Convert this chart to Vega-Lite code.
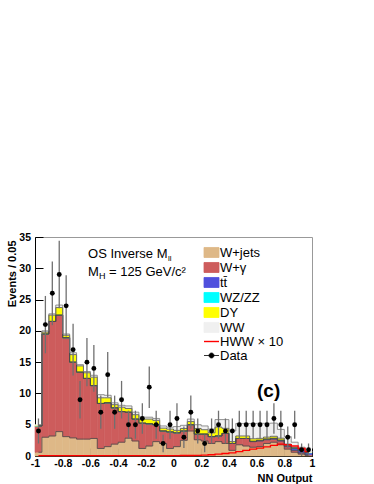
{
  "$schema": "https://vega.github.io/schema/vega-lite/v6.json",
  "width": 277,
  "height": 219,
  "autosize": {"type": "none"},
  "padding": {"left": 35, "top": 237, "right": 62, "bottom": 28},
  "background": "white",
  "config": {
    "font": "Liberation Sans",
    "view": {"stroke": "#999999", "strokeWidth": 1},
    "axis": {
      "grid": false,
      "domainColor": "#000000",
      "tickColor": "#000000",
      "labelFont": "Liberation Sans",
      "labelFontWeight": "bold",
      "labelFontSize": 10.5,
      "labelColor": "#000000",
      "labelOverlap": false,
      "labelFlush": false,
      "titleFont": "Liberation Sans",
      "titleFontWeight": "bold",
      "titleFontSize": 11,
      "titleColor": "#000000"
    },
    "axisX": {
      "title": "NN Output",
      "values": [-1, -0.8, -0.6, -0.4, -0.2, 0, 0.2, 0.4, 0.6, 0.8, 1],
      "tickSize": -8,
      "labelPadding": 10,
      "titleAnchor": "end",
      "titleAlign": "right",
      "titleBaseline": "alphabetic",
      "titleX": 277,
      "titleY": 25
    },
    "axisY": {
      "values": [0, 5, 10, 15, 20, 25, 30, 35],
      "tickSize": -8,
      "labelPadding": 12.5,
      "titleAngle": -90,
      "titleAlign": "right",
      "titleBaseline": "alphabetic",
      "titleX": -20,
      "titleY": 3
    }
  },
  "datasets": {
    "procs": [
      {"p": "wjets", "o": 0, "label": "W+jets"},
      {"p": "wg", "o": 1, "label": "W+γ"},
      {"p": "tt", "o": 2, "label": "tt\u0304"},
      {"p": "wz", "o": 3, "label": "WZ/ZZ"},
      {"p": "dy", "o": 4, "label": "DY"},
      {"p": "ww", "o": 5, "label": "WW"}
    ],
    "bins": [
      {"lo": -1, "hi": -0.95, "c": -0.975, "wjets": 0.6, "wg": 4.2, "tt": 0, "wz": 0, "dy": 0.1, "ww": 0.1, "hww": 0.05, "n": 4, "err": 2},
      {"lo": -0.95, "hi": -0.9, "c": -0.925, "wjets": 3.0, "wg": 16.5, "tt": 0, "wz": 0, "dy": 0.3, "ww": 0.2, "hww": 0.05, "n": 21, "err": 4.58},
      {"lo": -0.9, "hi": -0.85, "c": -0.875, "wjets": 3.2, "wg": 18.3, "tt": 0, "wz": 0.02, "dy": 1.0, "ww": 0.2, "hww": 0.05, "n": 26, "err": 5.1},
      {"lo": -0.85, "hi": -0.8, "c": -0.825, "wjets": 3.9, "wg": 18.6, "tt": 0, "wz": 0.02, "dy": 1.2, "ww": 0.4, "hww": 0.05, "n": 29, "err": 5.39},
      {"lo": -0.8, "hi": -0.75, "c": -0.775, "wjets": 3.1, "wg": 15.8, "tt": 0, "wz": 0, "dy": 0.4, "ww": 0.2, "hww": 0.05, "n": 24, "err": 4.9},
      {"lo": -0.75, "hi": -0.7, "c": -0.725, "wjets": 2.9, "wg": 12.1, "tt": 0, "wz": 0, "dy": 1.2, "ww": 0.3, "hww": 0.05, "n": 17, "err": 4.12},
      {"lo": -0.7, "hi": -0.65, "c": -0.675, "wjets": 2.7, "wg": 10.7, "tt": 0, "wz": 0, "dy": 1.0, "ww": 0.2, "hww": 0.05, "n": 9, "err": 3},
      {"lo": -0.65, "hi": -0.6, "c": -0.625, "wjets": 2.7, "wg": 9.7, "tt": 0, "wz": 0, "dy": 0.9, "ww": 0.2, "hww": 0.05, "n": 15, "err": 3.87},
      {"lo": -0.6, "hi": -0.55, "c": -0.575, "wjets": 2.8, "wg": 8.45, "tt": 0, "wz": 0, "dy": 1.35, "ww": 0.3, "hww": 0.05, "n": 14, "err": 3.74},
      {"lo": -0.55, "hi": -0.5, "c": -0.525, "wjets": 1.2, "wg": 7.2, "tt": 0, "wz": 0, "dy": 0.9, "ww": 0.5, "hww": 0.05, "n": 7, "err": 2.65},
      {"lo": -0.5, "hi": -0.45, "c": -0.475, "wjets": 1.5, "wg": 7.0, "tt": 0, "wz": 0, "dy": 0.8, "ww": 0.4, "hww": 0.05, "n": 13, "err": 3.61},
      {"lo": -0.45, "hi": -0.4, "c": -0.425, "wjets": 1.9, "wg": 5.8, "tt": 0, "wz": 0, "dy": 0.5, "ww": 0.3, "hww": 0.05, "n": 7, "err": 2.65},
      {"lo": -0.4, "hi": -0.35, "c": -0.375, "wjets": 2.2, "wg": 4.9, "tt": 0, "wz": 0, "dy": 0.7, "ww": 0.3, "hww": 0.05, "n": 9, "err": 3},
      {"lo": -0.35, "hi": -0.3, "c": -0.325, "wjets": 2.85, "wg": 4.15, "tt": 0, "wz": 0, "dy": 0.6, "ww": 0.4, "hww": 0.05, "n": 5, "err": 2.24},
      {"lo": -0.3, "hi": -0.25, "c": -0.275, "wjets": 2.4, "wg": 3.5, "tt": 0, "wz": 0, "dy": 0.7, "ww": 0.4, "hww": 0.05, "n": 5, "err": 2.24},
      {"lo": -0.25, "hi": -0.2, "c": -0.225, "wjets": 1.2, "wg": 4.05, "tt": 0, "wz": 0, "dy": 0.65, "ww": 0.3, "hww": 0.05, "n": 6, "err": 2.45},
      {"lo": -0.2, "hi": -0.15, "c": -0.175, "wjets": 1.6, "wg": 3.55, "tt": 0, "wz": 0, "dy": 0.75, "ww": 0.3, "hww": 0.05, "n": 11, "err": 3.32},
      {"lo": -0.15, "hi": -0.1, "c": -0.125, "wjets": 2.3, "wg": 2.7, "tt": 0, "wz": 0, "dy": 0.7, "ww": 0.3, "hww": 0.05, "n": 5, "err": 2.24},
      {"lo": -0.1, "hi": -0.05, "c": -0.075, "wjets": 2.0, "wg": 2.0, "tt": 0, "wz": 0, "dy": 0.45, "ww": 0.35, "hww": 0.05, "n": 2, "err": 1.41},
      {"lo": -0.05, "hi": 0, "c": -0.025, "wjets": 1.2, "wg": 2.65, "tt": 0, "wz": 0, "dy": 0.45, "ww": 0.3, "hww": 0.05, "n": 5, "err": 2.24},
      {"lo": 0, "hi": 0.05, "c": 0.025, "wjets": 1.5, "wg": 2.2, "tt": 0, "wz": 0, "dy": 0.4, "ww": 0.6, "hww": 0.05, "n": 6, "err": 2.45},
      {"lo": 0.05, "hi": 0.1, "c": 0.075, "wjets": 2.5, "wg": 1.5, "tt": 0, "wz": 0, "dy": 0.4, "ww": 0.5, "hww": 0.08, "n": 3, "err": 1.73},
      {"lo": 0.1, "hi": 0.15, "c": 0.125, "wjets": 4.0, "wg": 1.0, "tt": 0, "wz": 0, "dy": 0.5, "ww": 0.4, "hww": 0.08, "n": 7, "err": 2.65},
      {"lo": 0.15, "hi": 0.2, "c": 0.175, "wjets": 2.6, "wg": 0.9, "tt": 0, "wz": 0, "dy": 0.9, "ww": 0.6, "hww": 0.1, "n": 4, "err": 2},
      {"lo": 0.2, "hi": 0.25, "c": 0.225, "wjets": 2.4, "wg": 1.1, "tt": 0, "wz": 0, "dy": 0.7, "ww": 0.6, "hww": 0.15, "n": 2, "err": 1.41},
      {"lo": 0.25, "hi": 0.3, "c": 0.275, "wjets": 2.0, "wg": 1.1, "tt": 0, "wz": 0, "dy": 0.6, "ww": 0.6, "hww": 0.2, "n": 4, "err": 2},
      {"lo": 0.3, "hi": 0.35, "c": 0.325, "wjets": 2.3, "wg": 0.9, "tt": 0, "wz": 0.02, "dy": 1.4, "ww": 1.2, "hww": 0.3, "n": 5, "err": 2.24},
      {"lo": 0.35, "hi": 0.4, "c": 0.375, "wjets": 2.0, "wg": 1.6, "tt": 0, "wz": 0.02, "dy": 0.8, "ww": 1.4, "hww": 0.4, "n": 4, "err": 2},
      {"lo": 0.4, "hi": 0.45, "c": 0.425, "wjets": 0.9, "wg": 1.1, "tt": 0, "wz": 0, "dy": 0.3, "ww": 1.7, "hww": 0.5, "n": 4, "err": 2},
      {"lo": 0.45, "hi": 0.5, "c": 0.475, "wjets": 1.8, "wg": 1.0, "tt": 0, "wz": 0, "dy": 0.4, "ww": 2.0, "hww": 0.7, "n": 5, "err": 2.24},
      {"lo": 0.5, "hi": 0.55, "c": 0.525, "wjets": 1.6, "wg": 1.2, "tt": 0, "wz": 0, "dy": 0.4, "ww": 2.0, "hww": 0.9, "n": 5, "err": 2.24},
      {"lo": 0.55, "hi": 0.6, "c": 0.575, "wjets": 1.4, "wg": 0.9, "tt": 0.05, "wz": 0, "dy": 0.4, "ww": 2.45, "hww": 1.1, "n": 5, "err": 2.24},
      {"lo": 0.6, "hi": 0.65, "c": 0.625, "wjets": 1.5, "wg": 0.9, "tt": 0.1, "wz": 0.02, "dy": 0.3, "ww": 2.4, "hww": 1.25, "n": 5, "err": 2.24},
      {"lo": 0.65, "hi": 0.7, "c": 0.675, "wjets": 2.0, "wg": 0.6, "tt": 0.1, "wz": 0.02, "dy": 0.3, "ww": 2.2, "hww": 1.45, "n": 5, "err": 2.24},
      {"lo": 0.7, "hi": 0.75, "c": 0.725, "wjets": 2.2, "wg": 0.5, "tt": 0.1, "wz": 0.05, "dy": 0.3, "ww": 2.1, "hww": 1.7, "n": 6, "err": 2.45},
      {"lo": 0.75, "hi": 0.8, "c": 0.775, "wjets": 1.8, "wg": 0.6, "tt": 0.1, "wz": 0.05, "dy": 0.3, "ww": 1.4, "hww": 1.9, "n": 5, "err": 2.24},
      {"lo": 0.8, "hi": 0.85, "c": 0.825, "wjets": 1.1, "wg": 0.4, "tt": 0.2, "wz": 0.1, "dy": 0.1, "ww": 1.2, "hww": 1.8, "n": 3, "err": 1.73},
      {"lo": 0.85, "hi": 0.9, "c": 0.875, "wjets": 0.6, "wg": 0.3, "tt": 0.3, "wz": 0.1, "dy": 0.1, "ww": 0.8, "hww": 1.6, "n": 5, "err": 2.24},
      {"lo": 0.9, "hi": 0.95, "c": 0.925, "wjets": 0.3, "wg": 0.2, "tt": 0.4, "wz": 0.1, "dy": 0.05, "ww": 0.35, "hww": 1.2, "n": 1, "err": 1},
      {"lo": 0.95, "hi": 1, "c": 0.975, "wjets": 0.1, "wg": 0.1, "tt": 0.3, "wz": 0.05, "dy": 0, "ww": 0.25, "hww": 0.7, "n": 1, "err": 1}
    ]
  },
  "layer": [
    {
      "data": {"name": "bins"},
      "transform": [
        {"fold": ["wjets", "wg", "tt", "wz", "dy", "ww"], "as": ["p", "v"]},
        {"lookup": "p", "from": {"data": {"name": "procs"}, "key": "p", "fields": ["o", "label"]}},
        {"stack": "v", "groupby": ["lo"], "sort": [{"field": "o", "order": "ascending"}], "as": ["v0", "v1"]}
      ],
      "mark": {"type": "bar", "strokeWidth": 0.6},
      "encoding": {
        "x": {
          "field": "lo", "type": "quantitative", "title": "NN Output",
          "scale": {"domain": [-1, 1], "nice": false, "zero": false},
          "axis": {"format": "~g", "labelExpr": "replace(datum.label, '\u2212', '-')", "labelOverlap": false}
        },
        "x2": {"field": "hi"},
        "y": {
          "field": "v0", "type": "quantitative", "title": "Events / 0.05",
          "scale": {"domain": [0, 35], "nice": false},
          "axis": {"labelOverlap": false}
        },
        "y2": {"field": "v1"},
        "stroke": {
          "field": "label", "type": "nominal",
          "scale": {
            "domain": ["W+jets", "W+γ", "tt\u0304", "WZ/ZZ", "DY", "WW", "HWW × 10", "Data"],
            "range": ["#deb887", "#cd5c5c", "#5050dd", "#00ffff", "#ffff00", "#f0f0f0", "#ff0000", "#000000"]
          },
          "legend": null
        },
        "fill": {
          "field": "label", "type": "nominal",
          "scale": {
            "domain": ["W+jets", "W+γ", "tt\u0304", "WZ/ZZ", "DY", "WW", "HWW × 10", "Data"],
            "range": ["#deb887", "#cd5c5c", "#5050dd", "#00ffff", "#ffff00", "#f0f0f0", "#ff0000", "#000000"]
          },
          "legend": {
            "orient": "none",
            "legendX": 170,
            "legendY": 9,
            "title": null,
            "padding": 0,
            "offset": 0,
            "rowPadding": 0,
            "symbolSize": 225,
            "labelFont": "Liberation Sans",
            "labelFontSize": 13,
            "labelColor": "#000000",
            "labelOffset": 2,
            "labelLimit": 0,
            "encode": {
              "symbols": {
                "update": {
                  "shape": {"signal": "datum.value === 'HWW × 10' ? 'M-1,0H1' : datum.value === 'Data' ? 'M-1,0H1M-0.33,0A0.33,0.33,0,1,1,0.33,0A0.33,0.33,0,1,1,-0.33,0Z' : 'M-1,-0.667H1V0.667H-1Z'"},
                  "stroke": {"signal": "datum.value === 'HWW × 10' ? '#ff0000' : datum.value === 'Data' ? '#555555' : datum.value === 'WW' ? '#777777' : '#333333'"},
                  "strokeWidth": {"signal": "datum.value === 'HWW × 10' ? 1.4 : 0.8"}
                }
              }
            }
          }
        }
      }
    },
    {
      "data": {"name": "bins"},
      "transform": [
        {"fold": ["wjets", "wg", "tt", "wz", "dy", "ww"], "as": ["p", "v"]},
        {"lookup": "p", "from": {"data": {"name": "procs"}, "key": "p", "fields": ["o", "label"]}},
        {"stack": "v", "groupby": ["lo"], "sort": [{"field": "o", "order": "ascending"}], "as": ["v0", "v1"]}
      ],
      "mark": {"type": "line", "interpolate": "step", "strokeWidth": 0.8},
      "encoding": {
        "x": {"field": "c", "type": "quantitative", "title": "NN Output", "scale": {"domain": [-1, 1], "nice": false, "zero": false}, "axis": {"format": "~g", "labelExpr": "replace(datum.label, '\u2212', '-')", "labelOverlap": false}},
        "y": {"field": "v1", "type": "quantitative", "title": "Events / 0.05", "scale": {"domain": [0, 35], "nice": false}, "axis": {"labelOverlap": false}},
        "detail": {"field": "p", "type": "nominal"},
        "stroke": {"condition": {"test": "datum.p === 'ww'", "value": "#7a7a7a"}, "value": "#4a4a4a"}
      }
    },
    {
      "data": {"name": "bins"},
      "mark": {"type": "line", "interpolate": "step", "stroke": "#ff0000", "strokeWidth": 1.3},
      "encoding": {
        "x": {"field": "c", "type": "quantitative", "title": "NN Output", "scale": {"domain": [-1, 1], "nice": false, "zero": false}, "axis": {"format": "~g", "labelExpr": "replace(datum.label, '\u2212', '-')", "labelOverlap": false}},
        "y": {"field": "hww", "type": "quantitative", "title": "Events / 0.05", "scale": {"domain": [0, 35], "nice": false}, "axis": {"labelOverlap": false}}
      }
    },
    {
      "data": {"name": "bins"},
      "mark": {"type": "errorbar", "color": "#707070", "thickness": 1.3},
      "encoding": {
        "x": {"field": "c", "type": "quantitative", "title": "NN Output", "scale": {"domain": [-1, 1], "nice": false, "zero": false}, "axis": {"format": "~g", "labelExpr": "replace(datum.label, '\u2212', '-')", "labelOverlap": false}},
        "y": {"field": "n", "type": "quantitative", "title": "Events / 0.05", "scale": {"domain": [0, 35], "nice": false}, "axis": {"labelOverlap": false}},
        "yError": {"field": "err"}
      }
    },
    {
      "data": {"name": "bins"},
      "mark": {"type": "circle", "color": "#000000", "opacity": 1, "size": 24},
      "encoding": {
        "x": {"field": "c", "type": "quantitative", "title": "NN Output", "scale": {"domain": [-1, 1], "nice": false, "zero": false}, "axis": {"format": "~g", "labelExpr": "replace(datum.label, '\u2212', '-')", "labelOverlap": false}},
        "y": {"field": "n", "type": "quantitative", "title": "Events / 0.05", "scale": {"domain": [0, 35], "nice": false}, "axis": {"labelOverlap": false}}
      }
    },
    {
      "data": {"values": [{}]},
      "mark": {"type": "text", "text": "OS Inverse M", "align": "left", "baseline": "alphabetic", "font": "Liberation Sans", "fontSize": 13, "color": "#000000"},
      "encoding": {"x": {"datum": -0.617, "type": "quantitative", "title": "NN Output"}, "y": {"datum": 31.7, "type": "quantitative", "title": "Events / 0.05"}}
    },
    {
      "data": {"values": [{}]},
      "mark": {"type": "text", "text": "ll", "align": "left", "baseline": "alphabetic", "font": "Liberation Sans", "fontSize": 8, "color": "#000000"},
      "encoding": {"x": {"datum": -0.04, "type": "quantitative", "title": "NN Output"}, "y": {"datum": 31.2, "type": "quantitative", "title": "Events / 0.05"}}
    },
    {
      "data": {"values": [{}]},
      "mark": {"type": "text", "text": "M", "align": "left", "baseline": "alphabetic", "font": "Liberation Sans", "fontSize": 13, "color": "#000000"},
      "encoding": {"x": {"datum": -0.617, "type": "quantitative", "title": "NN Output"}, "y": {"datum": 28.8, "type": "quantitative", "title": "Events / 0.05"}}
    },
    {
      "data": {"values": [{}]},
      "mark": {"type": "text", "text": "H", "align": "left", "baseline": "alphabetic", "font": "Liberation Sans", "fontSize": 9, "color": "#000000"},
      "encoding": {"x": {"datum": -0.538, "type": "quantitative", "title": "NN Output"}, "y": {"datum": 28.35, "type": "quantitative", "title": "Events / 0.05"}}
    },
    {
      "data": {"values": [{}]},
      "mark": {"type": "text", "text": "= 125 GeV/c²", "align": "left", "baseline": "alphabetic", "font": "Liberation Sans", "fontSize": 13, "color": "#000000"},
      "encoding": {"x": {"datum": -0.466, "type": "quantitative", "title": "NN Output"}, "y": {"datum": 28.8, "type": "quantitative", "title": "Events / 0.05"}}
    },
    {
      "data": {"values": [{}]},
      "mark": {"type": "text", "text": "(c)", "align": "left", "baseline": "alphabetic", "font": "Liberation Sans", "fontSize": 19, "fontWeight": "bold", "color": "#000000"},
      "encoding": {"x": {"datum": 0.603, "type": "quantitative", "title": "NN Output"}, "y": {"datum": 9.5, "type": "quantitative", "title": "Events / 0.05"}}
    }
  ]
}
